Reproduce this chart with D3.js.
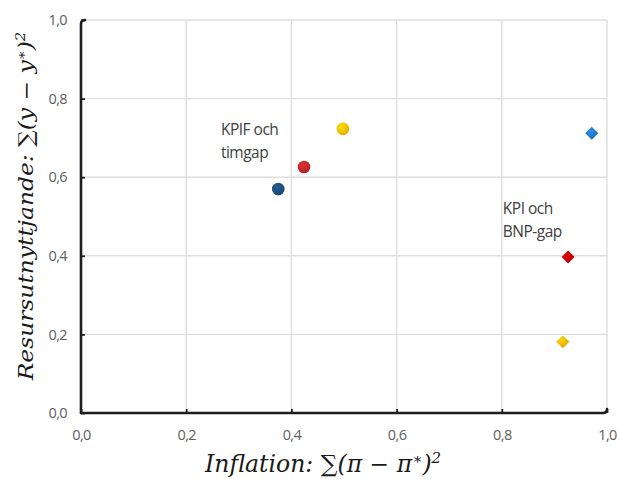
<!DOCTYPE html>
<html>
<head>
<meta charset="utf-8">
<script src="https://cdn.jsdelivr.net/npm/d3@7"></script>
<style>
  body { margin: 0; background: #fff; }
  svg { display: block; }
</style>
</head>
<body>
<div id="chart"></div>
<script>
// chart values
const pointNames = ["KPIF timgap 1", "KPIF timgap 2", "KPIF timgap 3", "KPI BNP-gap 1", "KPI BNP-gap 2", "KPI BNP-gap 3"];
const inflationVals = [0.375, 0.424, 0.498, 0.971, 0.926, 0.916];
const resursVals = [0.570, 0.626, 0.723, 0.712, 0.397, 0.181];
const pointShapes = ["circle", "circle", "circle", "diamond", "diamond", "diamond"];
const pointColors = ["#1f4e79", "#c0282d", "#ffc000", "#1f78c8", "#c00000", "#f5b400"];
const xTicks = [0, 0.2, 0.4, 0.6, 0.8, 1.0];
const yTicks = [0, 0.2, 0.4, 0.6, 0.8, 1.0];
const groupLabels = [["KPIF och", "timgap"], ["KPI och", "BNP-gap"]];
const labelAnchors = [[0.266, 0.707], [0.802, 0.506]];

const width = 619, height = 479;
const margin = { top: 20, right: 12, bottom: 66, left: 81 };

const svg = d3.select("#chart").append("svg")
    .attr("width", width)
    .attr("height", height);

const x = d3.scaleLinear().domain([0, 1]).range([margin.left, width - margin.right]);
const y = d3.scaleLinear().domain([0, 1]).range([height - margin.bottom, margin.top]);

const fmt = d => d3.format(".1f")(d).replace(".", ",");

// square diamond (d3's own diamond is too tall)
const squareDiamond = {
    draw(ctx, size) {
        const r = Math.sqrt(size / 2);
        ctx.moveTo(0, -r); ctx.lineTo(r, 0); ctx.lineTo(0, r); ctx.lineTo(-r, 0); ctx.closePath();
    }
};

// gradients for the shaded markers
const defs = svg.append("defs");
pointColors.forEach((c, i) => {
    const g = defs.append("radialGradient").attr("id", "grad" + i)
        .attr("cx", "40%").attr("cy", "35%").attr("r", "65%");
    g.append("stop").attr("offset", "0%").attr("stop-color", d3.color(c).brighter(0.5));
    g.append("stop").attr("offset", "100%").attr("stop-color", d3.color(c).darker(0.3));
});

// gridlines
svg.append("g")
    .selectAll("line")
    .data(xTicks.slice(1))
    .join("line")
    .attr("x1", d => x(d)).attr("x2", d => x(d))
    .attr("y1", y(0)).attr("y2", y(1))
    .attr("stroke", "#dedede").attr("stroke-width", 1.4);

svg.append("g")
    .selectAll("line")
    .data(yTicks.slice(1))
    .join("line")
    .attr("y1", d => y(d)).attr("y2", d => y(d))
    .attr("x1", x(0)).attr("x2", x(1))
    .attr("stroke", "#dedede").attr("stroke-width", 1.4);

// axes (ticks pointing inward)
const xAxis = svg.append("g")
    .attr("transform", `translate(0,${y(0)})`)
    .call(d3.axisBottom(x).tickValues(xTicks).tickFormat(fmt).tickSize(-4).tickPadding(17));
const yAxis = svg.append("g")
    .attr("transform", `translate(${x(0)},0)`)
    .call(d3.axisLeft(y).tickValues(yTicks).tickFormat(fmt).tickSize(-4).tickPadding(14));

[xAxis, yAxis].forEach(a => {
    a.select(".domain").attr("stroke", "#1e1e1e").attr("stroke-width", 2.6)
        .attr("stroke-linecap", "round").attr("stroke-linejoin", "round");
    a.selectAll(".tick line").attr("stroke", "#1e1e1e").attr("stroke-width", 1.8);
    a.selectAll(".tick text")
        .attr("fill", "#606060")
        .style("font-family", "'Open Sans', sans-serif")
        .style("font-size", "14.5px")
        .style("letter-spacing", "-0.6px");
});
// axis lines with small hooks at the far ends, like the original
yAxis.select(".domain").attr("d", `M4,${y(1)}Q0,${y(1)} 0,${y(1) + 4}V${y(0)}`);
xAxis.select(".domain").attr("d", `M${x(0)},0H${x(1) - 4}Q${x(1)},0 ${x(1)},-4`);

// markers
const pts = pointNames.map((n, i) => ({ name: n, x: inflationVals[i], y: resursVals[i], shape: pointShapes[i], i: i }));
svg.append("g")
    .selectAll("path")
    .data(pts)
    .join("path")
    .attr("transform", d => `translate(${x(d.x)},${y(d.y)})`)
    .attr("d", d => d.shape === "circle"
        ? d3.symbol().type(d3.symbolCircle).size(125)()
        : d3.symbol().type(squareDiamond).size(84)())
    .attr("fill", d => `url(#grad${d.i})`);

// group labels
groupLabels.forEach((lines, k) => {
    const t = svg.append("text")
        .attr("x", x(labelAnchors[k][0]))
        .attr("y", y(labelAnchors[k][1]))
        .attr("fill", "#404040")
        .style("font-family", "'Open Sans', sans-serif")
        .style("font-size", "15.5px")
        .style("letter-spacing", "-0.5px");
    lines.forEach((ln, j) => t.append("tspan").attr("x", x(labelAnchors[k][0])).attr("dy", j ? 22.5 : 0).text(ln));
});

// axis titles
const xt = svg.append("text")
    .attr("x", 205)
    .attr("y", 472)
    .attr("fill", "#1a1a1a")
    .style("font-family", "'DejaVu Serif', serif")
    .style("font-style", "italic")
    .style("font-size", "23.5px");
xt.append("tspan").text("Inflation: ∑(π − π");
xt.append("tspan").attr("dy", -8).style("font-size", "15px").text("∗");
xt.append("tspan").attr("dy", 8).text(")");
xt.append("tspan").attr("dy", -9).style("font-size", "15px").text("2");

const yt = svg.append("text")
    .attr("transform", `translate(33,206) rotate(-90) scale(1.14,1)`)
    .attr("text-anchor", "middle")
    .attr("fill", "#1a1a1a")
    .style("font-family", "'DejaVu Serif', serif")
    .style("font-style", "italic")
    .style("font-size", "20.5px");
yt.append("tspan").text("Resursutnyttjande: ∑(y − y");
yt.append("tspan").attr("dy", -7).style("font-size", "13px").text("∗");
yt.append("tspan").attr("dy", 7).text(")");
yt.append("tspan").attr("dy", -8).style("font-size", "13px").text("2");
</script>
</body>
</html>
